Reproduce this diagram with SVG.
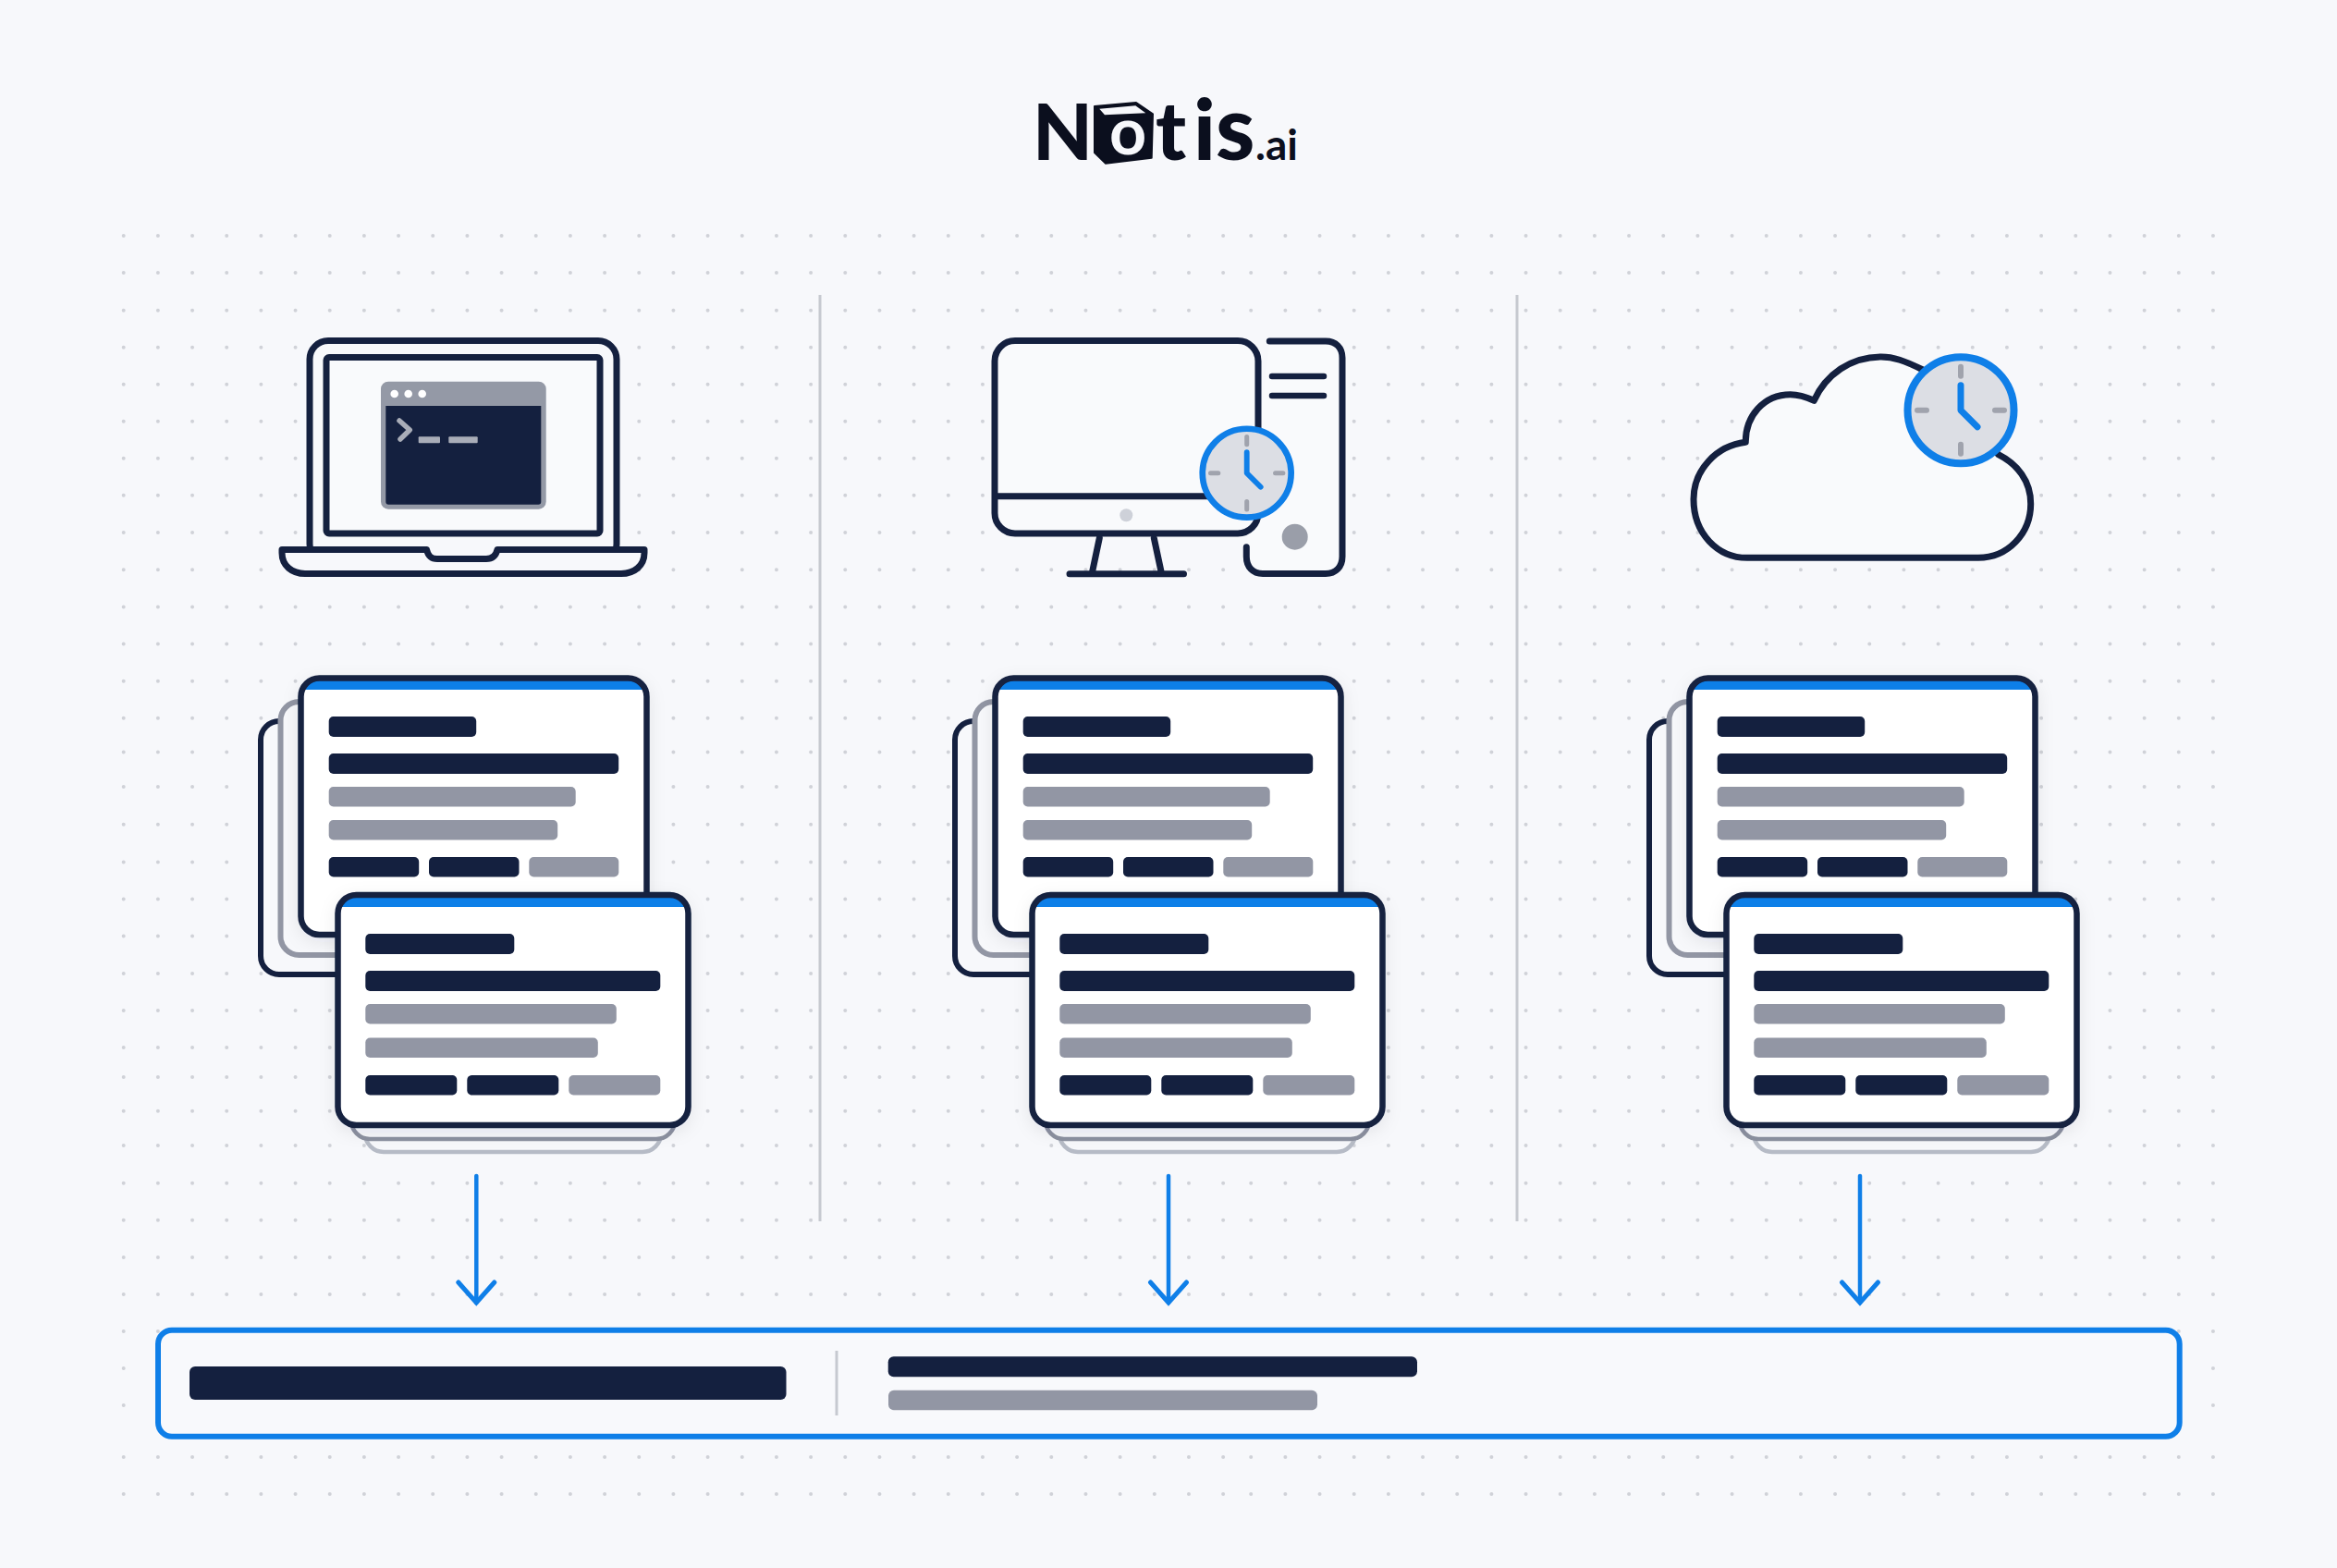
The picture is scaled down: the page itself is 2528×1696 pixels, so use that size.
<svg xmlns="http://www.w3.org/2000/svg" xmlns:xlink="http://www.w3.org/1999/xlink" width="2528" height="1696" viewBox="0 0 2528 1696">
<style>
.ink{fill:none;stroke:#14203f;stroke-width:7;stroke-linecap:round;stroke-linejoin:round}
.d{fill:#14203f}.g{fill:#9296a4}.b{fill:#0f7fe8}
.cardbg{fill:#fff}
.edge{fill:none;stroke:#14203f;stroke-width:6.5}
.divider{stroke:#c6c9d0;stroke-width:3;fill:none}
.arrow{stroke:#0f7fe8;stroke-width:4.5;fill:none;stroke-linecap:round;marker-end:url(#arrowhead)}
.dots{fill:none;stroke:#d0d2d8;stroke-width:4;stroke-linecap:round;stroke-dasharray:0 37.17}
.logo{font-family:Lato,"Liberation Sans",sans-serif;font-weight:900;fill:#0b0f1e}
</style>
<defs>
<filter id="soft" x="-15%" y="-15%" width="130%" height="130%"><feDropShadow dx="0" dy="5" stdDeviation="9" flood-color="#1a2647" flood-opacity="0.08"/></filter>
<marker id="arrowhead" markerUnits="userSpaceOnUse" markerWidth="60" markerHeight="60" refX="40" refY="30" orient="auto" overflow="visible"><path d="M18 10.5L40 30L18 49.5" fill="none" stroke="#0f7fe8" stroke-width="5" stroke-linecap="round" stroke-linejoin="miter"/></marker>
<clipPath id="clip-a"><rect x="325.5" y="733.5" width="374" height="277.5" rx="20"/></clipPath>
<clipPath id="clip-b"><rect x="365.5" y="968" width="379" height="249" rx="20"/></clipPath>
<g id="clock">
<circle r="57.5" fill="#dcdee4" stroke="#0f7fe8" stroke-width="8"/>
<path d="M0-47V-37M0 47V37M-47 0H-37M47 0H37" stroke="#a0a3ad" stroke-width="6" stroke-linecap="round" fill="none"/>
<path d="M0-27V0L18 18" stroke="#0f7fe8" stroke-width="7" stroke-linecap="round" stroke-linejoin="round" fill="none"/>
</g>
<g id="card-stack">
<rect x="282" y="780" width="120" height="274" rx="20" fill="#f7f8fb" stroke="#14203f" stroke-width="6"/>
<rect x="303.5" y="759" width="120" height="274" rx="20" fill="#f7f8fb" stroke="#9296a4" stroke-width="6"/>
<rect x="395" y="1190" width="320" height="56" rx="20" fill="#f7f8fb" stroke="#b6bbc6" stroke-width="4.5"/>
<rect x="380" y="1180" width="350" height="52" rx="20" fill="#f7f8fb" stroke="#8c91a0" stroke-width="4.5"/>
<g filter="url(#soft)">
<rect class="cardbg" x="325.5" y="733.5" width="374" height="277.5" rx="20"/>
<rect class="b" x="325" y="733" width="375" height="13" clip-path="url(#clip-a)"/>
<rect class="edge" x="325.5" y="733.5" width="374" height="277.5" rx="20"/>
</g>
<rect class="d" x="355.7" y="775" width="159.5" height="22" rx="5"/>
<rect class="d" x="355.7" y="815" width="313.5" height="22" rx="5"/>
<rect class="g" x="355.7" y="851" width="267" height="21.5" rx="5"/>
<rect class="g" x="355.7" y="887" width="247.5" height="21.5" rx="5"/>
<rect class="d" x="355.7" y="927" width="97.5" height="21.5" rx="5"/>
<rect class="d" x="464" y="927" width="97.5" height="21.5" rx="5"/>
<rect class="g" x="572.3" y="927" width="97" height="21.5" rx="5"/>
<g filter="url(#soft)">
<rect class="cardbg" x="365.5" y="968" width="379" height="249" rx="20"/>
<rect class="b" x="365" y="968" width="380" height="13" clip-path="url(#clip-b)"/>
<rect class="edge" x="365.5" y="968" width="379" height="249" rx="20"/>
</g>
<rect class="d" x="395.3" y="1010" width="161" height="22" rx="5"/>
<rect class="d" x="395.3" y="1050" width="319" height="22" rx="5"/>
<rect class="g" x="395.3" y="1086" width="271.5" height="21.5" rx="5"/>
<rect class="g" x="395.3" y="1122.5" width="251.5" height="21.5" rx="5"/>
<rect class="d" x="395.3" y="1163" width="99" height="21.5" rx="5"/>
<rect class="d" x="505.3" y="1163" width="99" height="21.5" rx="5"/>
<rect class="g" x="615.3" y="1163" width="99" height="21.5" rx="5"/>
</g>
</defs>
<rect id="background" width="2528" height="1696" fill="#f7f8fb"/>
<g id="dot-grid">
<path class="dots" d="M133.7 255H1340M133.7 295H1340M133.7 335.7H1340M133.7 375.7H1340M133.7 415.7H1340M133.7 455.7H1340M133.7 495.7H1340M133.7 535.7H1340M133.7 576H1340M133.7 616.3H1340M133.7 656.5H1340M133.7 696.5H1340M133.7 736.8H1340M133.7 776.8H1340M133.7 813.6H1340M133.7 851H1340M133.7 891.8H1340M133.7 932.5H1340M133.7 972.5H1340M133.7 1012.5H1340M133.7 1052.9H1340M133.7 1092.9H1340M133.7 1132.9H1340M133.7 1165H1340M133.7 1201.8H1340M133.7 1239H1340M133.7 1279.7H1340M133.7 1319.7H1340M133.7 1360H1340M133.7 1400H1340M133.7 1440H1340M133.7 1480H1340M133.7 1520H1340M133.7 1576H1340M133.7 1616H1340"/>
<path class="dots" d="M1353.2 255H2396M1353.2 295H2396M1353.2 335.7H2396M1353.2 375.7H2396M1353.2 415.7H2396M1353.2 455.7H2396M1353.2 495.7H2396M1353.2 535.7H2396M1353.2 576H2396M1353.2 616.3H2396M1353.2 656.5H2396M1353.2 696.5H2396M1353.2 736.8H2396M1353.2 776.8H2396M1353.2 813.6H2396M1353.2 851H2396M1353.2 891.8H2396M1353.2 932.5H2396M1353.2 972.5H2396M1353.2 1012.5H2396M1353.2 1052.9H2396M1353.2 1092.9H2396M1353.2 1132.9H2396M1353.2 1165H2396M1353.2 1201.8H2396M1353.2 1239H2396M1353.2 1279.7H2396M1353.2 1319.7H2396M1353.2 1360H2396M1353.2 1400H2396M1353.2 1440H2396M1353.2 1480H2396M1353.2 1520H2396M1353.2 1576H2396M1353.2 1616H2396"/>
</g>
<g id="column-dividers">
<path class="divider" d="M887 319V1321"/>
<path class="divider" d="M1641 319V1321"/>
</g>
<g id="logo">
<path d="M1184 115L1229 111L1247 123.3L1245.7 170.7L1196 176.7L1184 165Z" fill="#0b0f1e" stroke="#0b0f1e" stroke-width="2" stroke-linejoin="round"/>
<path d="M1189.3 117.7L1228.3 114.3L1239.3 122.3L1195 124.3Z" fill="#f7f8fb"/>
<text class="logo" y="173" font-size="84"><tspan x="1117">N</tspan><tspan x="1200" y="166.5" font-size="70" font-weight="700" fill="#f7f8fb">o</tspan><tspan x="1250" y="173" font-size="88">t</tspan><tspan x="1291" font-size="92">i</tspan><tspan x="1315" font-size="96">s</tspan><tspan x="1358" font-size="46" font-weight="700">.ai</tspan></text>
</g>
<g id="node-laptop">
<rect class="ink" x="335" y="368.5" width="332" height="240" rx="20" style="fill:#f7f8fb"/>
<rect class="ink" x="353" y="386.5" width="296" height="190.5" rx="3" style="fill:#f9fafc"/>
<rect x="412" y="412.7" width="178.7" height="138" rx="8" fill="#9499a6"/>
<path d="M417.3 439H585.3V542.7a3 3 0 0 1-3 3H420.3a3 3 0 0 1-3-3Z" fill="#14203f"/>
<circle cx="426.7" cy="426" r="4.3" fill="#fff"/><circle cx="441.7" cy="426" r="4.3" fill="#fff"/><circle cx="456.7" cy="426" r="4.3" fill="#fff"/>
<path d="M432 455L443.3 465L433 475" fill="none" stroke="#a9adb8" stroke-width="5.5" stroke-linecap="round" stroke-linejoin="round"/>
<rect x="452.7" y="472.3" width="23.3" height="7" rx="1" fill="#a9adb8"/><rect x="485.3" y="472.3" width="31.4" height="7" rx="1" fill="#a9adb8"/>
<path class="ink" style="fill:#f7f8fb" d="M305 594.5H461.5C463 601 466 604.5 473 604.5H526C533 604.5 536.5 601 538 594.5H697V598C697 612 686 620.5 672 620.5H330C316 620.5 305 612 305 598Z"/>
</g>
<g id="node-desktop">
<path class="ink" style="fill:#f9fafc" d="M1373.3 369H1434C1445 369 1452 376 1452 387V602C1452 613 1445 620.5 1434 620.5H1366C1355 620.5 1348.3 613 1348.3 602V591.7"/>
<path class="ink" style="stroke-width:6.5" d="M1376 407H1432M1376 428H1432"/>
<circle cx="1400.7" cy="580.7" r="14" fill="#9a9ea9"/>
<rect class="ink" style="fill:#f9fafc" x="1076" y="368.5" width="285" height="208.5" rx="22"/>
<path class="ink" style="stroke-linecap:butt" d="M1076 536.7H1361"/>
<circle cx="1218.3" cy="557.3" r="7" fill="#ced1d9"/>
<path class="ink" d="M1189.3 582L1181.7 618M1248.3 582L1256 618M1157 620.7H1280.5"/>
<use href="#clock" transform="translate(1348.7 511.7) scale(.834)"/>
</g>
<g id="node-cloud">
<path class="ink" style="fill:#f9fafc" d="M1890 603.3H2140C2172 603.3 2196.7 577 2196.7 545C2196.7 520 2182 502 2161.7 491.7L2080 400C2060 390 2048 386 2035 386C2002 386 1975 405 1962.3 433.3C1953 429 1945 426.7 1936.7 426.7C1908 426.7 1888 450 1888.3 478.3C1857 482 1832 508 1832 540C1832 577 1858 603.3 1890 603.3Z"/>
<use href="#clock" transform="translate(2121 443.7)"/>
</g>
<g id="node-cards-1"><use href="#card-stack"/></g>
<g id="node-cards-2"><use href="#card-stack" transform="translate(751 0)"/></g>
<g id="node-cards-3"><use href="#card-stack" transform="translate(1502 0)"/></g>
<g id="connectors">
<path class="arrow" d="M515.3 1272V1409"/>
<path class="arrow" d="M1264 1272V1409"/>
<path class="arrow" d="M2012 1272V1409"/>
</g>
<g id="node-summary-bar">
<rect x="171" y="1438.7" width="2186.7" height="115" rx="15" fill="#f8f9fc" stroke="#0f7fe8" stroke-width="6"/>
<rect class="d" x="205" y="1478" width="645.5" height="36" rx="6"/>
<path class="divider" d="M905 1461V1531"/>
<rect class="d" x="960.7" y="1467.3" width="572.3" height="22" rx="6"/>
<rect class="g" x="961" y="1503.7" width="464" height="21.6" rx="6"/>
</g>
</svg>
